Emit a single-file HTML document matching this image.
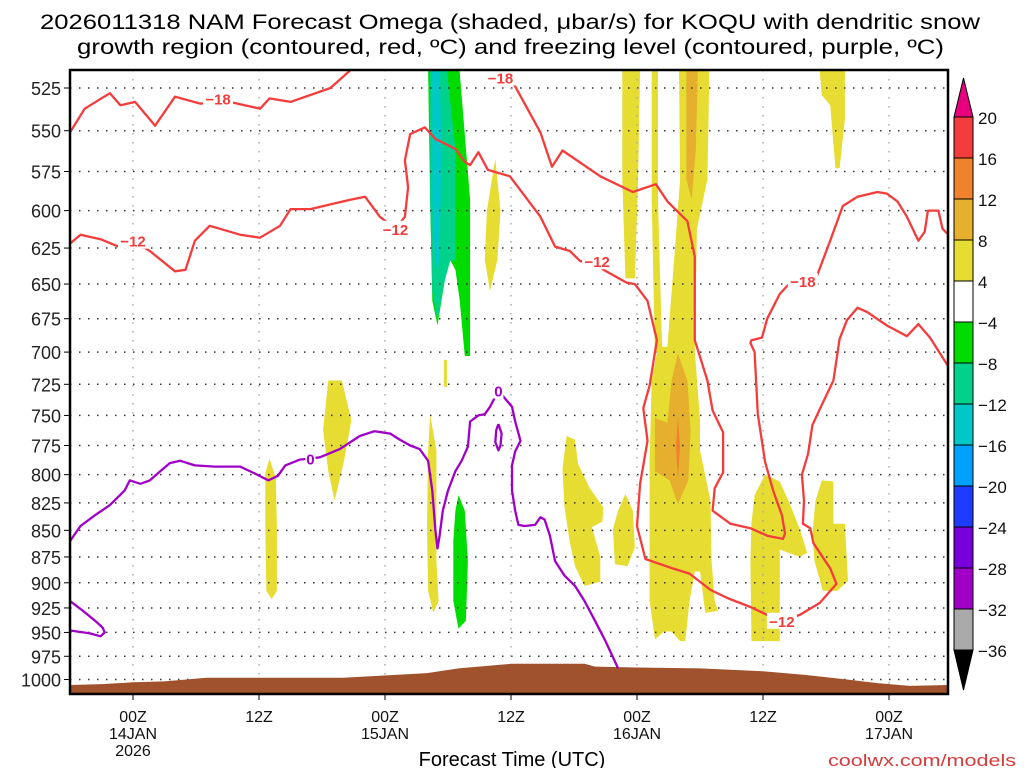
<!DOCTYPE html>
<html><head><meta charset="utf-8">
<style>
html,body{margin:0;padding:0;background:#fff;width:1024px;height:768px;overflow:hidden}
svg{display:block;font-family:"Liberation Sans","DejaVu Sans",sans-serif}
</style></head>
<body>
<svg id="chart" width="1024" height="768" viewBox="0 0 1024 768" xmlns="http://www.w3.org/2000/svg">
<text x="40" y="29" font-size="21" textLength="940" lengthAdjust="spacingAndGlyphs">2026011318 NAM Forecast Omega (shaded, μbar/s) for KOQU with dendritic snow</text>
<text x="77" y="54" font-size="21" textLength="867" lengthAdjust="spacingAndGlyphs">growth region (contoured, red, ºC) and freezing level (contoured, purple, ºC)</text>
<defs><clipPath id="plotclip"><rect x="70" y="70" width="878" height="624"/></clipPath></defs>
<g id="plot" clip-path="url(#plotclip)"></g>
<g id="axes"></g>
<g id="cbar"></g>
<text x="512" y="766" font-size="20" text-anchor="middle">Forecast Time (UTC)</text>
<text x="1016" y="766" font-size="17" text-anchor="end" fill="#d43c3c" textLength="188" lengthAdjust="spacingAndGlyphs">coolwx.com/models</text>
</svg>
<script>
const NS="http://www.w3.org/2000/svg";
// ---- data ----
const pressureTicks=[525,550,575,600,625,650,675,700,725,750,775,800,825,850,875,900,925,950,975,1000];
const timeTickHours=[0,12,24,36,48,60,72];
const timeTickLine1=["00Z","12Z","00Z","12Z","00Z","12Z","00Z"];
const timeTickLine2=["14JAN","","15JAN","","16JAN","","17JAN"];
const timeTickLine3=["2026","","","","","",""];
const cbarLevels=["20","16","12","8","4","−4","−8","−12","−16","−20","−24","−28","−32","−36"];
const cbarColors=["#f53c3c","#f0822d","#e6af2d","#e6dc32","#ffffff","#00dc00","#00d28c","#00c8c8","#00a0ff","#1e3cff","#7800dc","#a000c8","#aaaaaa"];
const terrain=[[-6,1006],[-3,1005],[0,1003],[3,1002],[7,998],[20,998],[25,995],[28,993],[31,988],[36,983],[43,983],[44,986],[48,987],[54,988],[60,991],[64,995],[68,1000],[71,1004],[74,1007],[77.6,1006]];
const shadeYellow=[
 [[13,786],[13.6,803],[13.7,846],[13.7,908],[13.2,916],[12.7,908],[12.6,846],[12.6,799]],
 [[18.6,722],[19.9,722],[20.8,754],[20.1,788],[19.2,823],[18.6,797],[18.1,762]],
 [[34.5,567],[35,600],[34.7,633],[34,655],[33.5,633],[33.7,600]],
 [[29.6,706],[29.9,706],[29.9,727],[29.6,727]],
 [[28.3,749],[28.9,779],[28.9,879],[29.1,918],[28.6,930],[28.1,908],[28,846],[28.1,779]],
 [[41.3,767],[42.1,770],[42.4,791],[43.5,812],[44.8,829],[44.7,842],[43.7,847],[44.5,875],[44.5,899],[43,903],[42.1,884],[41.6,861],[41.1,829],[40.9,795]],
 [[46.6,515],[48.3,515],[48.1,580],[47.8,646],[46.9,646],[46.6,580]],
 [[49.4,515],[50,515],[50,593],[50.4,700],[49.7,700],[49.4,593]],
 [[52,515],[54.9,515],[54.7,580],[53.7,612],[53.5,699],[54,754],[54,779],[55,823],[55.1,879],[55.4,918],[55.7,928],[54.5,930],[54,889],[53.5,889],[53,918],[52.6,959],[52.1,959],[51.3,949],[50.6,949],[49.7,957],[49.2,918],[49.2,788],[49.4,722],[50,696],[50.9,696],[51.6,627],[52.1,580]],
 [[46.9,817],[47.6,832],[47.8,866],[47.1,884],[45.9,882],[45.7,849],[46.2,832]],
 [[60.2,800],[61.6,806],[62.6,827],[63.5,849],[64.2,871],[63.5,875],[61.6,868],[61.6,911],[61.6,959],[58.9,959],[58.8,878],[58.9,843],[59.2,818]],
 [[65.6,805],[66.7,806],[66.7,844],[67.8,844],[68.1,898],[67.1,908],[65.7,908],[64.9,879],[64.7,853],[65,823]],
 [[65.4,515],[67.8,515],[67.8,543],[67.3,573],[66.9,573],[66.4,535],[65.6,529]]
];
const shadeOrange=[
 [[52.7,515],[53.8,515],[53.6,562],[53.2,593],[52.7,580]],
 [[51.9,701],[52.8,722],[53.1,763],[52.9,805],[51.9,826],[51.1,805],[49.7,797],[49.7,752],[50.9,756],[51.3,722]]
];
const shadeDeepOrange=[[[51.9,751],[52.1,776],[51.9,802],[51.7,776]]];
const shadeGreen=[
 [[28.1,515],[31.1,515],[32.1,593],[32.1,703],[31.6,703],[31.1,661],[30.7,640],[30.2,633],[29.7,647],[29,680],[28.5,662],[28.3,593]],
 [[31,818],[31.6,832],[31.9,879],[31.7,938],[31,946],[30.5,918],[30.5,860],[30.7,832]]
];
const shadeTeal=[[[28.3,515],[29.9,515],[30.7,561],[30.7,633],[30.2,634],[29.7,647],[29,676],[28.5,655],[28.3,593]]];
const shadeCyan=[[[28.5,515],[29.2,515],[29.4,561],[29.2,633],[28.8,640],[28.5,593]]];
const redMinus18Left=[[-6,551],[-4.6,537],[-2.2,528],[-1.2,535],[0.2,533],[2.1,547],[4,530],[6.4,534],[9.2,533],[12.1,537],[13,531],[15,533],[18.8,525],[20.7,515]];
const redMinus12Main=[[-6,622],[-5,616],[-3.1,619],[-1.4,624],[0,620],[1.6,627],[4,641],[5,640],[5.9,620],[7.3,610],[10.2,616],[12.1,618],[14,610],[15,599],[16.9,599],[18.8,596],[20.7,593],[22.1,591],[23.5,604],[25,612],[25.9,604],[26.2,585],[25.9,568],[26.4,552],[27.8,548],[28.8,555],[30.7,561],[31.6,569],[32.1,571],[32.9,563],[33.8,574],[35.9,578],[38.8,604],[40.2,624],[41.6,627],[42.6,634],[44.2,634],[44.8,640],[47,649],[47.8,650],[49,662],[49.9,691],[49.2,726],[48.6,744],[49,771],[48.3,808],[48,846],[48.8,877],[51.4,886],[53,891],[55,907],[56.6,915],[58.8,924],[60.4,932],[61.8,938],[63.5,932],[65.4,920],[67,901],[66.4,886],[64.8,862],[64.5,848],[63.8,844],[63.9,823],[63.7,800],[64.3,782],[64.7,758],[65.4,745],[66.7,722],[67.3,690],[68,676],[69,667],[69.9,670],[71.8,680],[73.7,688],[74.8,679],[75.9,689],[77.8,713]];
const redMinus18Right=[[36.2,522],[37.3,534],[38.8,551],[39.9,572],[40.9,562],[44.5,578],[47.6,588],[49.8,583],[50.9,594],[52.8,607],[53.5,631],[53.5,657],[53.5,691],[54.7,722],[55.2,746],[56.2,764],[56.2,798],[55.4,812],[55.2,832],[56.9,844],[58.8,848],[60.4,855],[61.9,858],[62.1,853],[61.8,836],[61,815],[60.2,789],[59.5,749],[59.2,700],[58.8,693],[58.9,691],[59.9,689],[60.4,675],[61.6,657],[62.6,649],[63.8,648],[65.1,645],[66.4,620],[67.6,597],[69,591],[70.9,588],[71.8,589],[72.8,594],[73.7,604],[74.8,620],[75.4,614],[75.7,600],[76.7,600],[77.1,612],[77.8,617]];
const purpleZero=[[-6,860],[-5,846],[-3.6,836],[-2.2,827],[-0.8,814],[-0.3,805],[0.7,808],[1.6,805],[2.6,797],[3.5,790],[4.5,788],[5.9,792],[7.8,793],[10.2,793],[11.6,799],[12.9,805],[13.8,801],[14.5,792],[15.9,787],[16.9,786],[17.8,785],[19.7,778],[21.6,767],[23,763],[24.5,765],[25.4,770],[26.4,775],[27.3,778],[28.1,788],[28.5,814],[28.8,850],[29,867],[29.2,855],[29.5,832],[30,814],[30.7,797],[31.3,788],[31.9,776],[32.1,755],[32.9,750],[33.5,749],[34,743],[34.8,730],[35.4,736],[36.1,743],[36.4,755],[36.9,771],[36.4,780],[36.1,792],[36.1,814],[36.4,832],[36.7,845],[37.3,846],[38.3,845],[38.8,838],[39.2,840],[39.7,855],[40.2,879],[41.1,893],[42.1,903],[43,918],[44,938],[45,959],[46.2,988]];
const purpleLoop=[[34.8,757],[35.1,765],[35,775],[34.8,779],[34.5,772],[34.6,762],[34.8,757]];
const purpleCorner=[[-6,918],[-5,926],[-3.6,938],[-2.9,945],[-2.7,950],[-3.1,954],[-4.1,951],[-6,948]];
const contourLabels=[["−18",8.1,531,"#f53c3c"],["−12",0,620,"#f53c3c"],["−12",25,612,"#f53c3c"],["−18",35,519,"#f53c3c"],["−12",44.2,634,"#f53c3c"],["−18",63.8,648,"#f53c3c"],["−12",61.8,938,"#f53c3c"],["0",16.9,786,"#a000c8"],["0",34.8,730,"#a000c8"]];
const X0=70,X1=948,Y0=70,Y1=694,H0=-6,HPX=10.5;
function xs(h){return X0+(h-H0)*HPX;}
function ys(p){return 88+918*Math.log(p/525);}
function el(tag,attrs,parent){const e=document.createElementNS(NS,tag);for(const k in attrs)e.setAttribute(k,attrs[k]);parent.appendChild(e);return e;}
function pts(a){return a.map(d=>xs(d[0]).toFixed(1)+","+ys(d[1]).toFixed(1)).join(" ");}
const plot=document.getElementById('plot'),axes=document.getElementById('axes'),cbar=document.getElementById('cbar');
function shade(list,color,name){list.forEach(poly=>{const e=el('polygon',{points:pts(poly),fill:color},plot);

});}
shade(shadeYellow,"#e6dc32","omega-shade-4-8");
shade(shadeOrange,"#e6af2d","omega-shade-8-12");
shade(shadeDeepOrange,"#f0822d","omega-shade-12-16");
shade(shadeGreen,"#00dc00","omega-shade-minus4-minus8");
shade(shadeTeal,"#00d28c","omega-shade-minus8-minus12");
shade(shadeCyan,"#00c8c8","omega-shade-minus12-minus16");
pressureTicks.forEach(p=>{const g=el('line',{x1:X0,x2:X1,y1:ys(p),y2:ys(p),stroke:"#333","stroke-width":1.5,"stroke-dasharray":"1.5 7.5"},plot);

});
timeTickHours.forEach(h=>{const g=el('line',{x1:xs(h),x2:xs(h),y1:Y0,y2:Y1,stroke:"#aaa","stroke-width":1.5,"stroke-dasharray":"1.5 7.5"},plot);

});
{const t=terrain.map(d=>[d[0],d[1]]);const poly=pts(t)+" "+xs(77.6)+","+(Y1+2)+" "+xs(-6)+","+(Y1+2);
const e=el('polygon',{points:poly,fill:"#a0522d"},plot);

}
function line(a,color,name){const e=el('polyline',{points:pts(a),fill:"none",stroke:color,"stroke-width":2.3,"stroke-linejoin":"round"},plot);

}
line(redMinus18Left,"#f53c3c","contour-minus18-left");
line(redMinus12Main,"#f53c3c","contour-minus12");
line(redMinus18Right,"#f53c3c","contour-minus18-right");
line(purpleZero,"#a000c8","freezing-level-0c");
line(purpleLoop,"#a000c8","freezing-level-loop");
line(purpleCorner,"#a000c8","freezing-level-corner");
contourLabels.forEach(c=>{const x=xs(c[1]),y=ys(c[2]);const w=c[0].length*10;
el('rect',{x:x-w/2,y:y-8,width:w,height:16,fill:"#fff"},plot);
const t=el('text',{x:x,y:y+6,"font-size":15,"font-weight":"bold",fill:c[3],"text-anchor":"middle"},plot);t.textContent=c[0];

});
{const f=el('rect',{x:X0,y:Y0,width:X1-X0,height:Y1-Y0,fill:"none",stroke:"#000","stroke-width":2.5},axes);

}
pressureTicks.forEach(p=>{const t=el('text',{x:61,y:ys(p)+7,"font-size":18,"text-anchor":"end",fill:"#222"},axes);t.textContent=p;


el('line',{x1:64,x2:70,y1:ys(p),y2:ys(p),stroke:"#000","stroke-width":1},axes);});
timeTickHours.forEach((h,i)=>{const x=xs(h);
el('line',{x1:x,x2:x,y1:Y1,y2:Y1+6,stroke:"#000","stroke-width":1},axes);
[timeTickLine1[i],timeTickLine2[i],timeTickLine3[i]].forEach((s,j)=>{if(!s)return;
const t=el('text',{x:x,y:722+j*17,"font-size":16,"text-anchor":"middle",fill:"#111"},axes);t.textContent=s;

});});
{const cx=954,cw=19,top=117,step=41;
const up=el('polygon',{points:`${cx},${top} ${cx+cw},${top} ${cx+cw/2},78`,fill:"#e6007e",stroke:"#000","stroke-width":1},cbar);


cbarColors.forEach((c,i)=>{const r=el('rect',{x:cx,y:top+i*step,width:cw,height:step,fill:c,stroke:"#000","stroke-width":1},cbar);

});
const bot=top+cbarColors.length*step;
const dn=el('polygon',{points:`${cx},${bot} ${cx+cw},${bot} ${cx+cw/2},690`,fill:"#000",stroke:"#000","stroke-width":1},cbar);


cbarLevels.forEach((s,i)=>{const t=el('text',{x:978,y:top+i*step+7,"font-size":17,fill:"#111"},cbar);t.textContent=s;

});}
</script>
</body></html>
